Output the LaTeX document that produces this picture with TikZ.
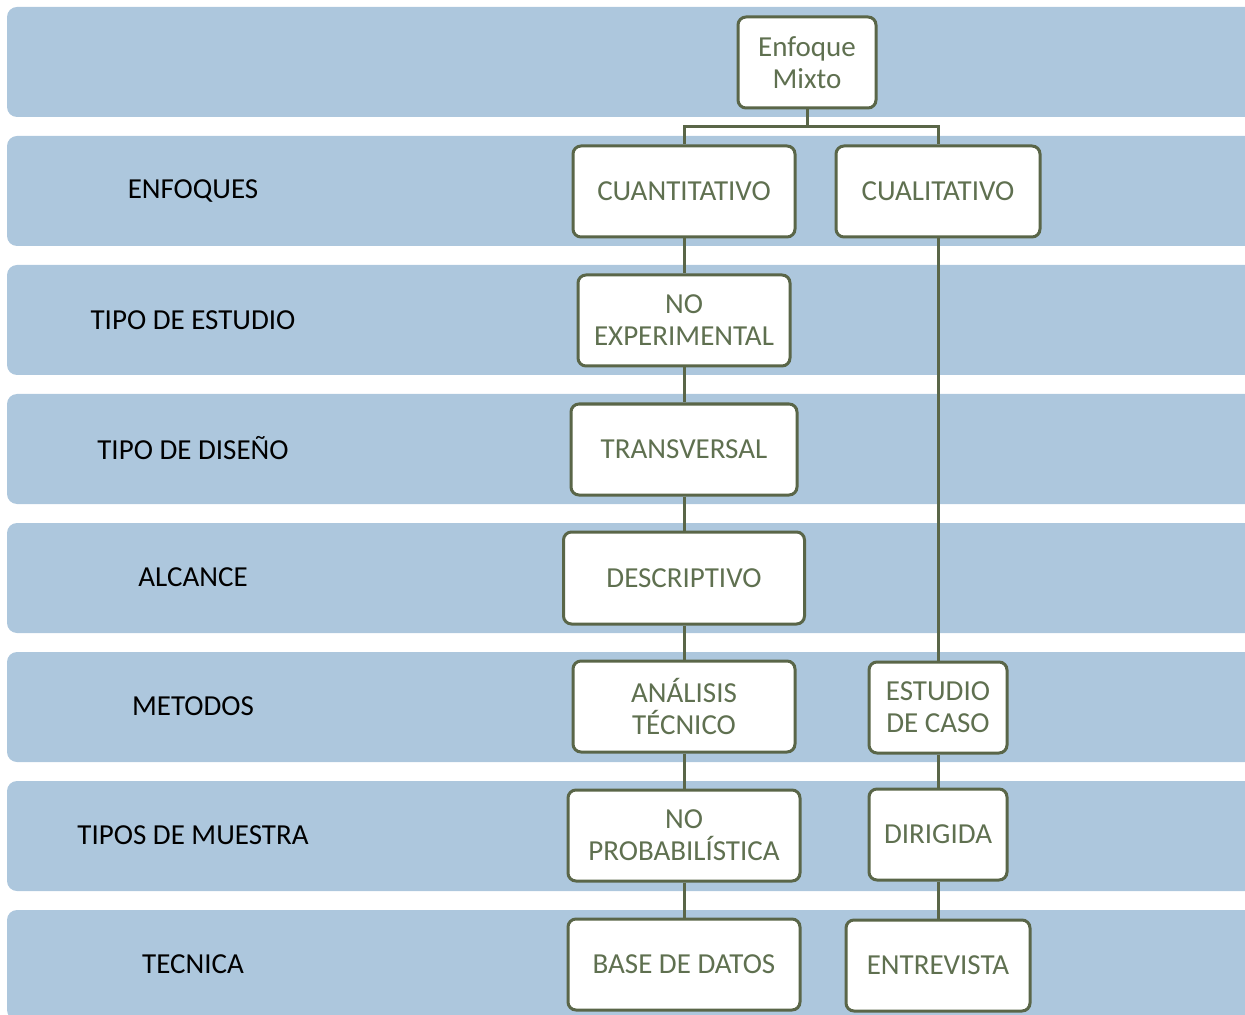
\documentclass[tikz,border=0pt]{standalone}
\usepackage{fontspec}
\setmainfont{Carlito}
\usetikzlibrary{positioning}

\definecolor{bandblue}{HTML}{ADC7DD}
\definecolor{boxline}{HTML}{5A6648}
\definecolor{boxtext}{HTML}{5F7050}

\tikzset{
  band/.style={fill=bandblue, draw=none, rounded corners=5pt},
  rowlabel/.style={font=\fontsize{14.5}{16}\selectfont, text=black},
  box/.style={draw=boxline, line width=1.5pt, fill=white, rounded corners=4pt,
    align=center, minimum height=45.5pt, inner sep=2pt,
    font=\fontsize{14.5}{16}\selectfont, text=boxtext},
  link/.style={draw=boxline, line width=1.5pt}
}

\begin{document}
\begin{tikzpicture}[x=0.5pt, y=-0.5pt]
        % fix the page size
        \useasboundingbox (0,0) rectangle (1245,1015);
        \clip (0,0) rectangle (1245,1015);

        % Draw the background bands
        \foreach \t in {7,136,265,394,523,652,781,910}
          \fill[band] (7,\t) rectangle (1265,\t+110);

        % Add row labels
        \node[rowlabel] (lenf) at (193,191) {ENFOQUES};
        \node[rowlabel] (lest) at (193,320) {TIPO DE ESTUDIO};
        \node[rowlabel] (ldis) at (193,448) {TIPO DE DISEÑO};
        \node[rowlabel] (lalc) at (193,577) {ALCANCE};
        \node[rowlabel] (lmet) at (193,706) {METODOS};
        \node[rowlabel] (lmue) at (193,835) {TIPOS DE MUESTRA};
        \node[rowlabel] (ltec) at (193,964) {TECNICA};

        % Draw the boxes
        \node[box, minimum width=69pt] (mixto) at (807,62.5) {Enfoque\\Mixto};
        \node[box, minimum width=111pt] (cuant) at (684,191.5) {CUANTITATIVO};
        \node[box, minimum width=102pt] (cuali) at (938,191.5) {CUALITATIVO};
        \node[box, minimum width=106pt] (noexp) at (684,320.5) {NO\\EXPERIMENTAL};
        \node[box, minimum width=113pt] (trans) at (684,449.5) {TRANSVERSAL};
        \node[box, minimum width=120.5pt, minimum height=46pt] (desc) at (684,578) {DESCRIPTIVO};
        \node[box, minimum width=111pt] (anal) at (684,706.5) {ANÁLISIS\\TÉCNICO};
        \node[box, minimum width=69pt] (caso) at (938,707.5) {ESTUDIO\\DE CASO};
        \node[box, minimum width=116pt] (noprob) at (684,835.5) {NO\\PROBABILÍSTICA};
        \node[box, minimum width=69pt] (dirig) at (938,834.5) {DIRIGIDA};
        \node[box, minimum width=116pt] (base) at (684,964.5) {BASE DE DATOS};
        \node[box, minimum width=92pt] (entre) at (938,965.5) {ENTREVISTA};

        % Draw the connectors
        \coordinate (split) at (807,127);
        \draw[link] (mixto.south) -- (split);
        \draw[link] (split) -| (cuant.north);
        \draw[link] (split) -| (cuali.north);
        \draw[link] (cuant.south) -- (noexp.north);
        \draw[link] (noexp.south) -- (trans.north);
        \draw[link] (trans.south) -- (desc.north);
        \draw[link] (desc.south) -- (anal.north);
        \draw[link] (anal.south) -- (noprob.north);
        \draw[link] (noprob.south) -- (base.north);
        \draw[link] (cuali.south) -- (caso.north);
        \draw[link] (caso.south) -- (dirig.north);
        \draw[link] (dirig.south) -- (entre.north);
\end{tikzpicture}
\end{document}
